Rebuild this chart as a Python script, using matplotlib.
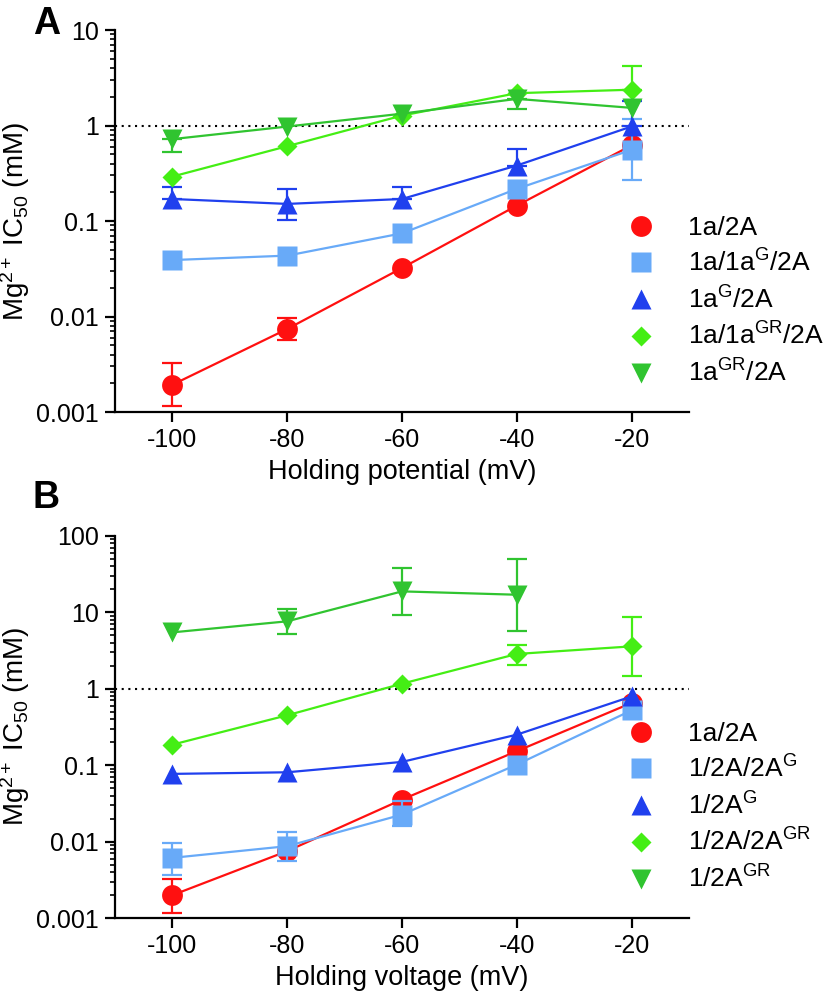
import numpy as np
import matplotlib
matplotlib.use("Agg")
import matplotlib.pyplot as plt
from matplotlib.ticker import LogLocator, FixedLocator, NullFormatter

plt.rcParams['font.family'] = ['Liberation Sans', 'DejaVu Sans']
plt.rcParams['mathtext.fontset'] = 'custom'
plt.rcParams['mathtext.rm'] = 'Liberation Sans'
plt.rcParams['mathtext.it'] = 'Liberation Sans:italic'
plt.rcParams['mathtext.bf'] = 'Liberation Sans:bold'
plt.rcParams['mathtext.default'] = 'regular'

# ---------------- data ----------------
voltages = [-100, -80, -60, -40, -20]
x_ticks = [-100, -80, -60, -40, -20]

# Panel A
A_labels = ['1a/2A', '1a/1a$^{G}$/2A', '1a$^{G}$/2A', '1a/1a$^{GR}$/2A', '1a$^{GR}$/2A']
A_red = [0.00193, 0.0074, 0.0322, 0.145, 0.62]
A_red_lo = [0.00116, 0.0057, None, None, None]
A_red_hi = [0.00326, 0.0097, None, None, None]
A_lblue = [0.039, 0.0434, 0.0743, 0.217, 0.556]
A_lblue_lo = [None, None, None, None, 0.27]
A_lblue_hi = [None, None, None, None, 1.16]
A_blue = [0.17, 0.151, 0.17, 0.381, 0.977]
A_blue_lo = [None, 0.1035, None, None, None]
A_blue_hi = [0.226, 0.217, 0.226, 0.57, 1.8]
A_dia = [0.292, 0.607, 1.27, 2.18, 2.37]
A_dia_lo = [None, None, None, None, None]
A_dia_hi = [None, None, None, None, 4.18]
A_down = [0.72, 0.975, 1.33, 1.9, 1.53]
A_down_lo = [0.525, None, None, 1.5, None]
A_down_hi = [None, None, None, None, None]

# Panel B
B_labels = ['1a/2A', '1/2A/2A$^{G}$', '1/2A$^{G}$', '1/2A/2A$^{GR}$', '1/2A$^{GR}$']
B_red = [0.00199, 0.0075, 0.0354, 0.152, 0.65]
B_red_lo = [0.00117, None, None, None, None]
B_red_hi = [0.00325, None, None, None, None]
B_lblue = [0.00612, 0.0087, 0.0225, 0.1015, 0.52]
B_lblue_lo = [0.0037, 0.0055, 0.0162, None, None]
B_lblue_hi = [0.0096, 0.0132, 0.0336, None, None]
B_blue = [0.0767, 0.0805, 0.110, 0.25, 0.79]
B_blue_lo = [None, None, None, None, None]
B_blue_hi = [None, None, None, None, None]
B_dia = [0.185, 0.448, 1.16, 2.84, 3.57]
B_dia_lo = [None, None, None, 2.02, 1.45]
B_dia_hi = [None, None, None, 3.76, 8.65]
B_down = [5.44, 7.59, 18.7, 16.9, None]
B_down_lo = [None, 5.24, 9.27, 5.6, None]
B_down_hi = [None, 11.1, 37.8, 50.0, None]

colors = ['#ff1010', '#68aaf8', '#2040ee', '#44ee14', '#30c430']
markers = ['o', 's', '^', 'D', 'v']
msizes = [15, 14.5, 14.5, 10, 14.5]

A_series = [(A_red, A_red_lo, A_red_hi), (A_lblue, A_lblue_lo, A_lblue_hi),
            (A_blue, A_blue_lo, A_blue_hi), (A_dia, A_dia_lo, A_dia_hi),
            (A_down, A_down_lo, A_down_hi)]
B_series = [(B_red, B_red_lo, B_red_hi), (B_lblue, B_lblue_lo, B_lblue_hi),
            (B_blue, B_blue_lo, B_blue_hi), (B_dia, B_dia_lo, B_dia_hi),
            (B_down, B_down_lo, B_down_hi)]

FS = 18
W, H = 829, 994
fig = plt.figure(figsize=(W / 100, H / 100), dpi=100)


def to_arr(lst):
    return np.array([np.nan if v is None else v for v in lst], dtype=float)


def draw(ax, series, labels, ylim, xlabel, leg_top):
    x = np.array(voltages, dtype=float)
    handles = []
    for i, (vals, lo, hi) in enumerate(series):
        v = to_arr(vals)
        l = to_arr(lo)
        h = to_arr(hi)
        ok = ~np.isnan(v)
        mask = ok & (~np.isnan(l) | ~np.isnan(h))
        if mask.any():
            lo_err = np.where(np.isnan(l), 0, v - l)[mask]
            hi_err = np.where(np.isnan(h), 0, h - v)[mask]
            ax.errorbar(x[mask], v[mask], yerr=[lo_err, hi_err], fmt='none',
                        ecolor=colors[i], elinewidth=1.6, capsize=7.5,
                        capthick=1.6, zorder=2 + i)
        ax.plot(x[ok], v[ok], '-', color=colors[i], lw=1.6, zorder=2 + i)
        ax.plot(x[ok], v[ok], linestyle='none', marker=markers[i],
                ms=msizes[i], color=colors[i], mec='none', zorder=3 + i)
        hnd, = ax.plot([], [], linestyle='none', marker=markers[i],
                       ms=msizes[i], color=colors[i], mec='none')
        handles.append(hnd)
    ax.axhline(1, color='black', ls=(0, (1, 2.2)), lw=1.5, zorder=1)
    ax.set_yscale('log')
    ax.set_ylim(*ylim)
    ax.set_xlim(-110, -10)
    ax.xaxis.set_major_locator(FixedLocator(x_ticks))
    ax.set_xticklabels([str(t) for t in x_ticks])
    ax.yaxis.set_major_locator(LogLocator(base=10, numticks=20))
    ax.yaxis.set_minor_locator(LogLocator(base=10, subs=np.arange(2, 10), numticks=20))
    ax.yaxis.set_minor_formatter(NullFormatter())
    ax.yaxis.set_major_formatter(matplotlib.ticker.FuncFormatter(
        lambda v, p: ('%g' % v)))
    for s in ['top', 'right']:
        ax.spines[s].set_visible(False)
    for s in ['left', 'bottom']:
        ax.spines[s].set_linewidth(1.6)
    ax.tick_params(axis='both', which='major', direction='out', length=7.5,
                   width=1.6, labelsize=FS, pad=4)
    ax.tick_params(axis='y', which='minor', direction='out', length=3.8, width=1.2)
    ax.set_xlabel(xlabel, fontsize=19.5, labelpad=5)
    ax.set_ylabel('Mg$^{2+}$ IC$_{50}$ (mM)', fontsize=20, labelpad=3)
    ax.legend(handles, labels, loc='upper left',
              bbox_to_anchor=(627.5 / W, leg_top), bbox_transform=fig.transFigure,
              frameon=False, fontsize=19, handlelength=1.0,
              handletextpad=1.3, labelspacing=0.36, borderpad=0,
              borderaxespad=0, numpoints=1)
    return ax


axA = fig.add_axes([115 / W, 1 - 412 / H, (689 - 115) / W, (412 - 30) / H])
draw(axA, A_series, A_labels, (0.001, 10), 'Holding potential (mV)', 1 - 216 / H)
axB = fig.add_axes([115 / W, 1 - 918 / H, (689 - 115) / W, (918 - 535.7) / H])
draw(axB, B_series, B_labels, (0.001, 100), 'Holding voltage (mV)', 1 - 722 / H)

fig.text(33 / W, 1 - 6 / H, 'A', fontsize=27, fontweight='bold', va='top', ha='left')
fig.text(33 / W, 1 - 480 / H, 'B', fontsize=27, fontweight='bold', va='top', ha='left')

fig.savefig('out.png', dpi=100)
